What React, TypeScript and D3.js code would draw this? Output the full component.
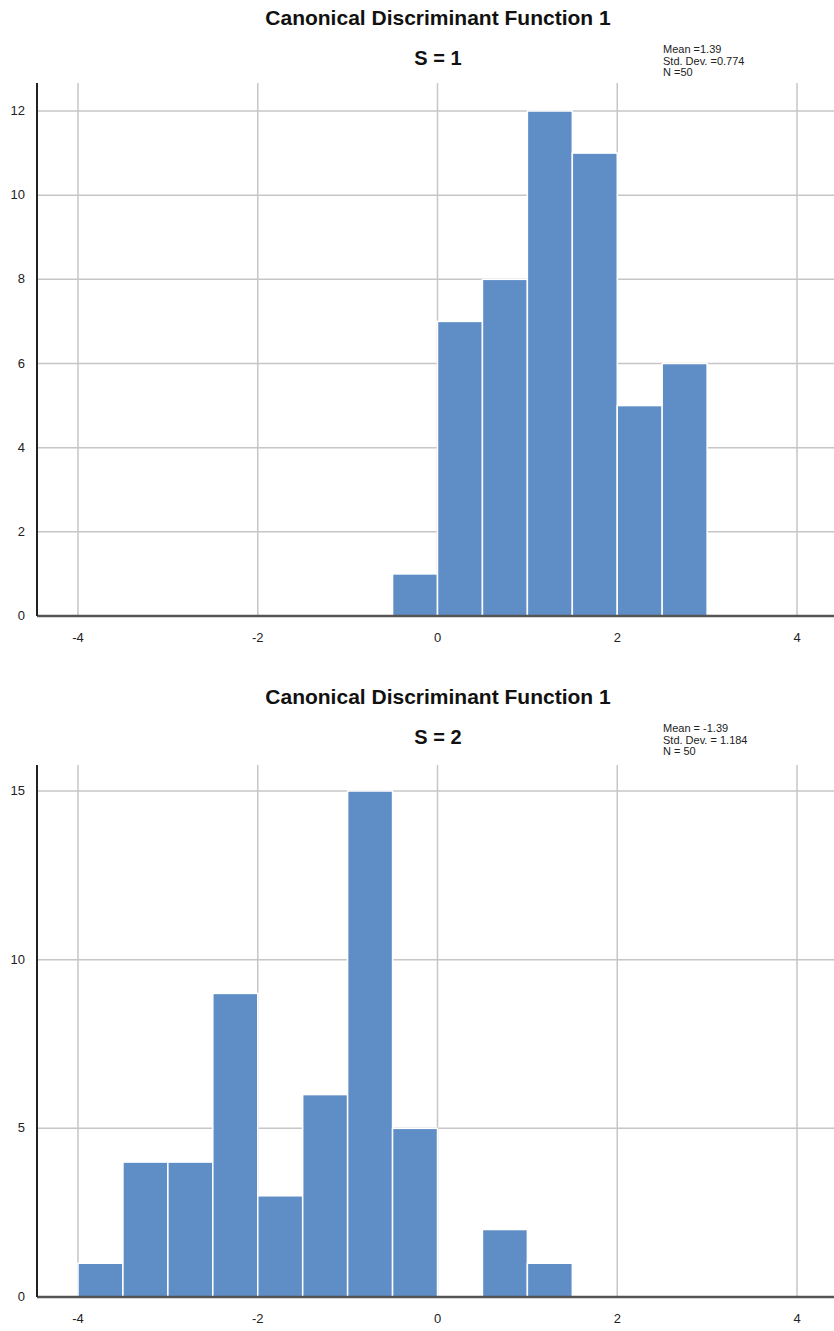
import React from "react";
import * as d3 from "d3";

const binStarts = [-4, -3.5, -3, -2.5, -2, -1.5, -1, -0.5, 0, 0.5, 1, 1.5, 2, 2.5];
const binWidth = 0.5;
const countsS1 = [0, 0, 0, 0, 0, 0, 0, 1, 7, 8, 12, 11, 5, 6];
const countsS2 = [1, 4, 4, 9, 3, 6, 15, 5, 0, 2, 1, 0, 0, 0];
const xTicks = [-4, -2, 0, 2, 4];
const yTicksS1 = [0, 2, 4, 6, 8, 10, 12];
const yTicksS2 = [0, 5, 10, 15];
const titleText = "Canonical Discriminant Function 1";
const statsS1 = ["Mean =1.39", "Std. Dev. =0.774", "N =50"];
const statsS2 = ["Mean = -1.39", "Std. Dev. = 1.184", "N = 50"];

const FONT = "'Liberation Sans', Arial, sans-serif";
const BAR = "#5f8dc6";
const GRID = "#c6c6c6";

type PanelProps = {
  top: number;
  counts: number[];
  yTicks: number[];
  yMax: number;
  yTop: number;
  y0: number;
  yMaxPx: number;
  label: string;
  stats: string[];
};

function Panel({ top, counts, yTicks, yMax, yTop, y0, yMaxPx, label, stats }: PanelProps) {
  const x = d3.scaleLinear().domain([-4, 4]).range([78, 797]);
  const y = d3.scaleLinear().domain([0, yMax]).range([y0, yMaxPx]);
  const left = 37;
  const right = 834;
  return (
    <g>
      <text x={438} y={top + 25} textAnchor="middle" fontFamily={FONT} fontWeight="bold" fontSize={21} fill="#111">
        {titleText}
      </text>
      <text x={438} y={top + 65} textAnchor="middle" fontFamily={FONT} fontWeight="bold" fontSize={20} fill="#111">
        {label}
      </text>
      {stats.map((s, i) => (
        <text key={i} x={663} y={top + 53 + i * 11.5} fontFamily={FONT} fontSize={11} fill="#222">
          {s}
        </text>
      ))}
      {yTicks.filter((t) => t > 0).map((t) => (
        <line key={"h" + t} x1={left} x2={right} y1={y(t)} y2={y(t)} stroke={GRID} strokeWidth={1.5} />
      ))}
      {xTicks.map((t) => (
        <line key={"v" + t} x1={x(t)} x2={x(t)} y1={yTop} y2={y0} stroke={GRID} strokeWidth={1.5} />
      ))}
      {counts.map((c, i) =>
        c > 0 ? (
          <rect
            key={"b" + i}
            x={x(binStarts[i])}
            y={y(c)}
            width={x(binStarts[i] + binWidth) - x(binStarts[i])}
            height={y0 - y(c)}
            fill={BAR}
            stroke="#ffffff"
            strokeWidth={1.5}
          />
        ) : null
      )}
      <line x1={left} x2={right} y1={y0} y2={y0} stroke="#555" strokeWidth={2.5} />
      <line x1={left} x2={left} y1={yTop} y2={y0} stroke="#222" strokeWidth={2} />
      {yTicks.map((t) => (
        <text key={"yl" + t} x={25} y={y(t) + 4} textAnchor="end" fontFamily={FONT} fontSize={13} fill="#222">
          {t}
        </text>
      ))}
      {xTicks.map((t) => (
        <text key={"xl" + t} x={x(t)} y={y0 + 26} textAnchor="middle" fontFamily={FONT} fontSize={13} fill="#222">
          {t}
        </text>
      ))}
    </g>
  );
}

export default function App() {
  return (
    <svg width={834} height={1331} style={{ position: "absolute", left: 0, top: 0, background: "#fff" }}>
      <rect x={0} y={0} width={834} height={1331} fill="#fff" />
      <Panel top={0} counts={countsS1} yTicks={yTicksS1} yMax={12} yTop={83} y0={616} yMaxPx={111} label="S = 1" stats={statsS1} />
      <Panel top={679} counts={countsS2} yTicks={yTicksS2} yMax={15} yTop={765} y0={1297} yMaxPx={791} label="S = 2" stats={statsS2} />
    </svg>
  );
}
